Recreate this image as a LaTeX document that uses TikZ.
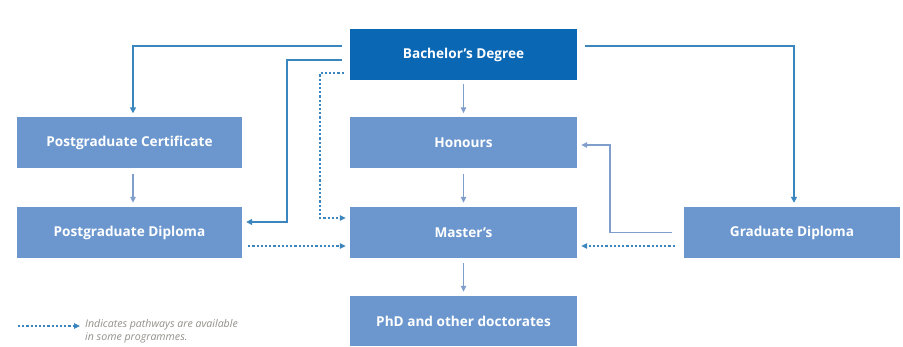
\documentclass[tikz,border=0pt]{standalone}
\usepackage{fontspec}
\setmainfont{Open Sans}
\usetikzlibrary{arrows.meta}
\definecolor{darkbox}{HTML}{0A67B3}
\definecolor{lightbox}{HTML}{6B97CE}
\definecolor{conncol}{HTML}{3C86BF}
\definecolor{softcol}{HTML}{7F9ECB}
\definecolor{legcol}{HTML}{939089}
\tikzset{
  box/.style={fill=lightbox, text=white, font=\bfseries\fontsize{13.6}{15}\selectfont,
    minimum width=227pt, minimum height=51pt, inner sep=0pt, anchor=center},
  topbox/.style={box, fill=darkbox},
  conn/.style={draw=conncol, line width=1.8pt, -{Triangle[length=6pt,width=6pt]},
    shorten <=8pt, shorten >=4pt},
  soft/.style={draw=softcol, line width=1.4pt, -{Triangle[length=6pt,width=5.5pt]},
    shorten <=5pt, shorten >=4pt},
  dots/.style={draw=conncol, line width=1.3pt, dash pattern=on 2.2pt off 2pt,
    -{Triangle[length=6pt,width=5.5pt]}, shorten <=6pt, shorten >=4pt}
}
\begin{document}
\begin{tikzpicture}[x=1pt,y=-1pt]
\useasboundingbox[fill=white] (0,0) rectangle (903,347);
% boxes
\node[topbox] (bach) at (463.5,54.5) {Bachelor's Degree};
\node[box, minimum width=225pt] (cert) at (129.5,143) {Postgraduate Certificate};
\node[box] (hon) at (463.5,143) {Honours};
\node[box, minimum width=225pt] (dip) at (129.5,232.5) {Postgraduate Diploma};
\node[box] (mas) at (463.5,232.5) {Master's};
\node[box, minimum width=216pt] (grad) at (792,232.5) {Graduate Diploma};
\node[box, minimum height=50pt] (phd) at (463.5,321) {PhD and other doctorates};
% bend points
\coordinate (j1) at (287,60);
\coordinate (j2) at (320,73);
\coordinate (j3) at (610,232.5);
% connectors from Bachelor's
\draw[conn] ([yshift=8.5pt]bach.west) -| ([xshift=3.5pt]cert.north);
\draw[conn] ([yshift=-5.5pt]bach.west) -- (j1) |- ([yshift=10.5pt]dip.east);
\draw[dots] ([yshift=-18.5pt]bach.west) -- (j2) |- ([yshift=14.5pt]mas.west);
\draw[conn] ([yshift=8.5pt]bach.east) -| ([xshift=2pt]grad.north);
\draw[soft, shorten <=4pt] (bach.south) -- (hon.north);
% vertical steps
\draw[soft] ([xshift=3.5pt]cert.south) -- ([xshift=3.5pt]dip.north);
\draw[soft] (hon.south) -- (mas.north);
\draw[soft] (mas.south) -- (phd.north);
% graduate diploma to honours
\draw[soft, shorten <=12pt] (grad.west) -- (j3) |- ([yshift=-2pt]hon.east);
% dotted pathways to master's
\draw[dots] ([yshift=-13.5pt]dip.east) -- ([yshift=-13.5pt]mas.west);
\draw[dots, shorten <=9pt] ([yshift=-13.5pt]grad.west) -- ([yshift=-13.5pt]mas.east);
% legend
\coordinate (legA) at (18,326);
\coordinate (legB) at (80,326);
\draw[dots, shorten <=0pt, shorten >=0pt] (legA) -- (legB);
\node[anchor=north west, align=left, inner sep=0pt, text=legcol,
  font=\itshape\fontsize{10.6}{13.5}\selectfont] (leg) at (85,319)
  {Indicates pathways are available\\in some programmes.};
\end{tikzpicture}
\end{document}
